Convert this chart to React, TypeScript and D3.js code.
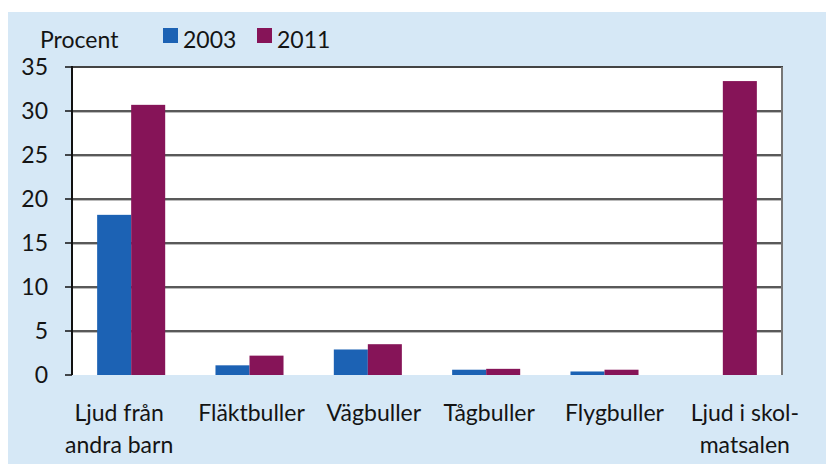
import React from 'react';
import * as d3 from 'd3';

// data
const categories = ['Ljud från|andra barn', 'Fläktbuller', 'Vägbuller', 'Tågbuller', 'Flygbuller', 'Ljud i skol-|matsalen'];
const values2003 = [18.2, 1.1, 2.9, 0.6, 0.4, 0];
const values2011 = [30.7, 2.2, 3.5, 0.7, 0.6, 33.4];
const yTicks = [0, 5, 10, 15, 20, 25, 30, 35];
const seriesNames = ['2003', '2011'];

// Excel puts the wrapped labels a bit off-centre
const labelShift = [-12, 2, 6, 3, 10, 22];

const W = 826;
const H = 464;
const m = {left: 72, top: 67, right: 782, bottom: 375};
const BLUE = '#1c62b4';
const PURPLE = '#861458';
const BG = '#d6e8f6';
const TXT = '#141414';
const font = 'Lato, "Open Sans", sans-serif';

export default function App() {
    const x = d3.scaleBand().domain(categories).range([m.left, m.right]).paddingInner(0.425).paddingOuter(0.2125);
    const xs = d3.scaleBand().domain(seriesNames).range([0, x.bandwidth()]);
    const y = d3.scaleLinear().domain([0, 35]).range([m.bottom, m.top]);

    const series = [values2003, values2011];
    const colors = [BLUE, PURPLE];

    return (
        <svg width={W} height={H} style={{position: 'fixed', left: 0, top: 0}} fontFamily={font}>
            <rect x={0} y={0} width={W} height={H} fill='#fff' />
            <rect x={8} y={12} width={W - 8} height={H - 12} fill={BG} />
            <rect x={m.left} y={m.top} width={m.right - m.left} height={m.bottom - m.top} fill='#fff' />

            {/* gridlines */}
            {yTicks.filter(t => t > 0 && t < 35).map(t => (
                <g key={t}>
                    <line x1={m.left} x2={m.right} y1={y(t) + 1.5} y2={y(t) + 1.5} stroke='#bbb' strokeWidth={1} />
                    <line x1={m.left} x2={m.right} y1={y(t)} y2={y(t)} stroke='#222' strokeWidth={1.5} />
                </g>
            ))}
            <line x1={m.left} x2={m.right + 1} y1={m.top} y2={m.top} stroke='#444' strokeWidth={2} />
            <line x1={m.right} x2={m.right} y1={m.top} y2={m.bottom} stroke='#777' strokeWidth={2} />

            {/* bars */}
            {series.map((vals, si) => vals.map((v, i) => v > 0 && (
                <rect key={si + '-' + i}
                      x={x(categories[i]) + xs(seriesNames[si])}
                      y={y(v)}
                      width={xs.bandwidth()}
                      height={m.bottom - y(v)}
                      fill={colors[si]} />
            )))}

            {/* y axis */}
            <line x1={m.left} x2={m.left} y1={m.top - 1} y2={m.bottom} stroke='#111' strokeWidth={2} />
            {yTicks.map(t => (
                <g key={'t' + t}>
                    <line x1={m.left - 7} x2={m.left} y1={y(t)} y2={y(t)} stroke='#111' strokeWidth={1.5} />
                    <text x={48} y={y(t)} dy='0.35em' textAnchor='end' fontSize={23} fill={TXT}>{t}</text>
                </g>
            ))}

            {/* x labels */}
            {categories.map((c, i) => {
                const cx = x(c) + x.bandwidth() / 2 + labelShift[i];
                return c.split('|').map((line, li) => (
                    <text key={c + li} x={cx} y={421 + li * 32} textAnchor='middle' fontSize={23} fill={TXT}>{line}</text>
                ));
            })}

            {/* legend */}
            <text x={40} y={48} fontSize={23} fill={TXT}>Procent</text>
            {seriesNames.map((s, i) => (
                <g key={s} transform={`translate(${163 + i * 94},28)`}>
                    <rect x={0} y={0} width={15} height={15} fill={colors[i]} />
                    <text x={20} y={20} fontSize={23} fill={TXT}>{s}</text>
                </g>
            ))}
        </svg>
    );
}
